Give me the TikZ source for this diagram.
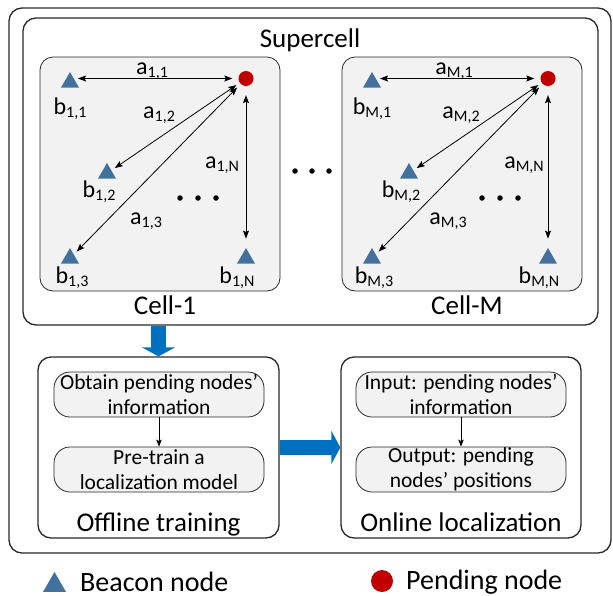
\documentclass[tikz,border=0pt]{standalone}
\usepackage{fontspec}
\setmainfont{Carlito}
\usetikzlibrary{arrows.meta,shapes.geometric}
\definecolor{tricol}{RGB}{65,113,156}
\definecolor{pendcol}{RGB}{192,0,0}
\definecolor{cellfill}{RGB}{242,242,242}
\definecolor{arrowblue}{RGB}{0,112,192}
\definecolor{edgecol}{RGB}{40,40,40}
\newcommand\lab[2]{#1\raisebox{-3pt}{\fontsize{16}{16}\selectfont #2}}
\tikzset{
  bigtext/.style={font=\fontsize{27}{30}\selectfont, inner sep=0pt, anchor=base},
  lbl/.style={font=\fontsize{24}{26}\selectfont, inner sep=0pt, anchor=base},
  beacon/.style={regular polygon, regular polygon sides=3, fill=tricol, draw=none, inner sep=0pt, minimum size=20.8pt},
  pend/.style={circle, fill=pendcol, draw=none, inner sep=0pt, minimum size=15pt},
  cellbox/.style={draw=edgecol, fill=cellfill, line width=0.8pt, rounded corners=13pt, inner sep=0pt},
  framebox/.style={draw=edgecol, line width=1.3pt, rounded corners=13pt, inner sep=0pt},
  stepbox/.style={draw=edgecol, fill=cellfill, line width=0.8pt, rounded corners=16pt, inner sep=0pt,
     minimum width=210pt, minimum height=45pt, align=center, font=\fontsize{21.5}{25}\selectfont},
  dbl/.style={{Stealth[length=8pt,width=6pt,inset=1.5pt]}-{Stealth[length=8pt,width=6pt,inset=1.5pt]}, line width=0.8pt},
  sgl/.style={-{Stealth[length=7pt,width=5.5pt,inset=1.5pt]}, line width=0.8pt},
  bluearrow/.style={draw=arrowblue, line width=15.5pt, -{Triangle[length=9pt,width=33pt]}},
  dotnode/.style={circle, fill=black, inner sep=0pt, minimum size=5.5pt}
}
\newcommand\mycell[3]{%
\begin{scope}[shift={(#2,0)}]
\node[cellbox, minimum width=240pt, minimum height=234pt] (#1box) at (160,174) {};
\node[pend] (#1p) at (246,78.5) {};
\node[beacon] (#1b1) at (70,82.4) {};
\node[beacon] (#1b2) at (107,173.4) {};
\node[beacon] (#1b3) at (70,258.4) {};
\node[beacon] (#1bN) at (246,258.4) {};
\node[lbl] (#1lb1) at (70,114) {\lab{b}{#3,1}};
\node[lbl] (#1lb2) at (99,197) {\lab{b}{#3,2}};
\node[lbl] (#1lb3) at (72,283) {\lab{b}{#3,3}};
\node[lbl] (#1lbN) at (237,283) {\lab{b}{#3,N}};
\node[lbl] (#1la1) at (152,74) {\lab{a}{#3,1}};
\node[lbl] (#1la2) at (159,118) {\lab{a}{#3,2}};
\node[lbl] (#1la3) at (146,224) {\lab{a}{#3,3}};
\node[lbl] (#1laN) at (222,168) {\lab{a}{#3,N}};
\draw[dbl, shorten <=8pt, shorten >=6pt] (#1b1.center |- #1p.center) -- (#1p);
\draw[dbl, shorten <=4pt, shorten >=4pt] (#1b2) -- (#1p);
\draw[dbl, shorten <=4pt, shorten >=5pt] (#1b3) -- (#1p);
\draw[dbl, shorten <=9pt, shorten >=9pt] (#1p) -- (#1bN);
\node[dotnode] (#1d1) at (180,198) {};
\node[dotnode] (#1d2) at (198,198) {};
\node[dotnode] (#1d3) at (216,198) {};
\node[bigtext] (#1name) at (165,314) {Cell-#3};
\end{scope}}

\begin{document}
\begin{tikzpicture}[x=1pt,y=-1pt]
\useasboundingbox (0,0) rectangle (613,595);
\fill[white] (0,0) rectangle (613,595);
\node[framebox, minimum width=602pt, minimum height=545pt] (outer) at (310,280.5) {};
\node[framebox, minimum width=575pt, minimum height=307pt] (super) at (310.5,171.5) {};
\node[bigtext] (supername) at (310,47) {Supercell};
\mycell{c1}{0}{1}
\mycell{cM}{302}{M}
\node[dotnode] (md1) at (295,171) {};
\node[dotnode] (md2) at (312,171) {};
\node[dotnode] (md3) at (329,171) {};
% lower part
\node[framebox, minimum width=241pt, minimum height=181pt] (offline) at (158.5,447.5) {};
\node[framebox, minimum width=240pt, minimum height=181pt] (online) at (461,447.5) {};
\node[stepbox] (obtain) at (159,394.5) {Obtain pending nodes’\\information};
\node[stepbox] (pretrain) at (159,469.5) {Pre-train a\\localization model};
\node[stepbox] (input) at (461,394.5) {Input: pending nodes’\\information};
\node[stepbox] (output) at (461,469.5) {Output: pending\\nodes’ positions};
\draw[sgl] (obtain) -- (pretrain);
\draw[sgl] (input) -- (output);
\node[bigtext] (offname) at (158.5,531) {Offline training};
\node[bigtext] (onname) at (461,531) {Online localization};
\draw[bluearrow] (offline.north |- super.south) -- (offline.north);
\draw[bluearrow] (offline.east) -- (online.west);
% legend
\node[beacon, minimum size=26.6pt] (legb) at (54.5,585.3) {};
\node[bigtext, font=\fontsize{28}{30}\selectfont, anchor=base west] (legbt) at (80,591) {Beacon node};
\node[pend, minimum size=22pt] (legp) at (382,581) {};
\node[bigtext, font=\fontsize{28}{30}\selectfont, anchor=base west] (legpt) at (406,589) {Pending node};
\end{tikzpicture}
\end{document}
